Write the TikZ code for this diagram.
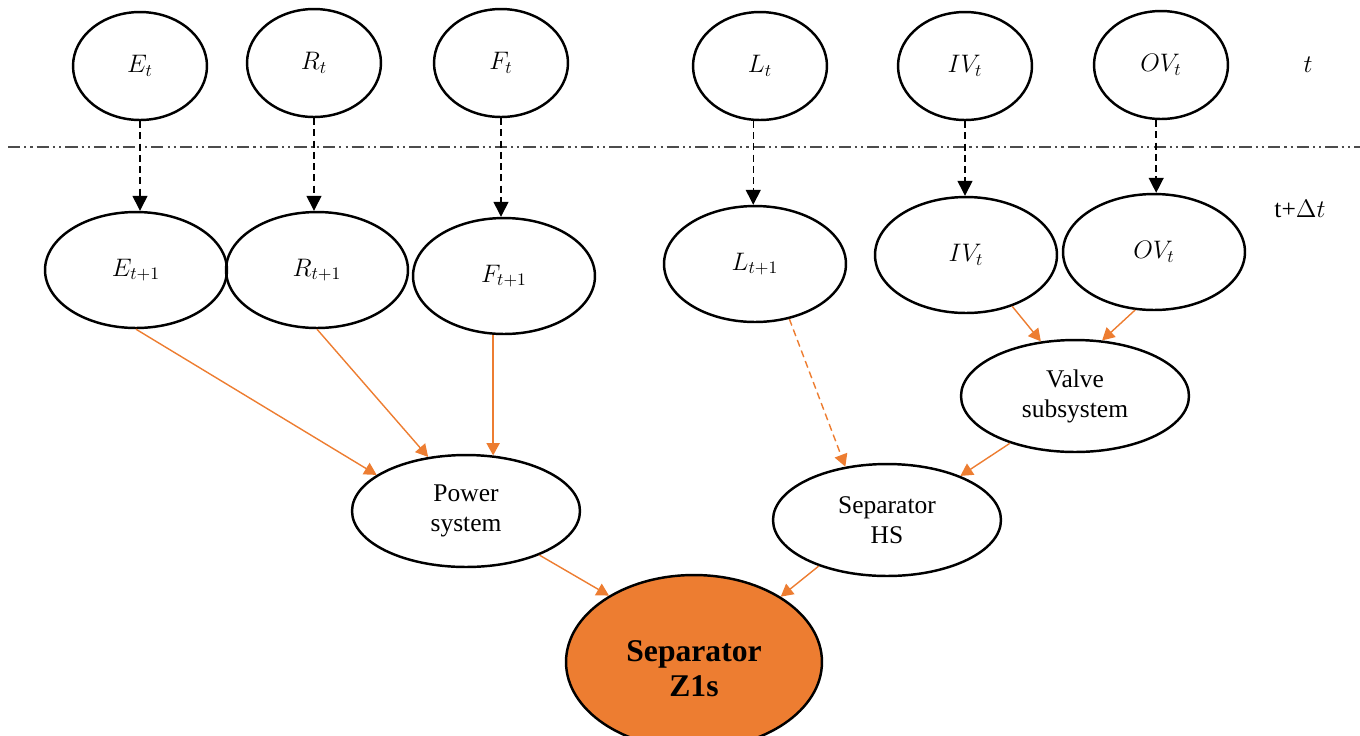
\documentclass[tikz,border=0pt]{standalone}
\usepackage{fontspec}
\setmainfont{Liberation Serif}
\usepackage{tikz}
\usetikzlibrary{shapes}
\usetikzlibrary{arrows.meta}
\definecolor{orangec}{HTML}{ED7D31}
\tikzstyle{etat}=[ellipse,draw,line width=1.4pt,inner sep=0pt,
        minimum width=2.68cm,minimum height=2.16cm,
        font=\fontsize{14.5}{17}\selectfont]
\tikzstyle{etatsuiv}=[etat,minimum width=3.64cm,minimum height=2.32cm]
\tikzstyle{soussys}=[ellipse,draw,line width=1.4pt,inner sep=0pt,
        minimum width=4.56cm,minimum height=2.24cm,align=center,
        font=\fontsize{14.5}{17}\selectfont]
\tikzstyle{cible}=[ellipse,draw,line width=1.4pt,inner sep=0pt,fill=orangec,
        minimum width=5.12cm,minimum height=3.48cm,
        font=\fontsize{18}{20}\selectfont\bfseries]
\tikzstyle{saut}=[-{Triangle[length=8.5pt,width=8.5pt]},line width=0.8pt,
        dash pattern=on 4pt off 2.4pt]
\tikzstyle{lien}=[-{Triangle[length=7pt,width=7.5pt]},color=orangec,line width=0.8pt]
\tikzstyle{lienpoint}=[lien,dash pattern=on 4pt off 2.4pt]

\begin{document}
\begin{tikzpicture}[x=0.02cm,y=-0.02cm]
\useasboundingbox (0,0) rectangle (1360,735);
%instant t
\node[etat] (et) at (140,66) {$E_t$};
\node[etat] (rt) at (314,63) {$R_t$};
\node[etat] (ft) at (501,63) {$F_t$};
\node[etat] (lt) at (760,66) {$L_t$};
\node[etat] (ivt) at (965,66) {$IV_t$};
\node[etat] (ovt) at (1161,65) {$OV_t$};
\node (tlab) at (1308,65) {\fontsize{15}{17}\selectfont$t$};
\draw[line width=1.1pt,color=black!70,
      dash pattern=on 7pt off 2.3pt on 1.2pt off 2.3pt on 1.2pt off 2.3pt]
      (8,147) -- (1360,147);
%instant t+dt
\node[etatsuiv] (et1) at (136,270) {$E_{t+1}$};
\node[etatsuiv] (rt1) at (317,270) {$R_{t+1}$};
\node[etatsuiv] (ft1) at (504,276) {$F_{t+1}$};
\node[etatsuiv] (lt1) at (755,264) {$L_{t+1}$};
\node[etatsuiv] (ivt1) at (966,255) {$IV_t$};
\node[etatsuiv] (ovt1) at (1154,252) {$OV_t$};
\node (tdt) at (1300,209) {\fontsize{14.5}{17}\selectfont t+$\Delta t$};
%sous-systemes
\node[soussys] (valve) at (1075,396) {Valve\\subsystem};
\node[soussys] (power) at (466,511) {Power\\system};
\node[soussys] (hs) at (887,520) {Separator\\HS};
\node[cible] (z1s) at (694,662)
     {\raisebox{-10pt}[0pt][0pt]{\begin{tabular}{@{}c@{}}Separator\\Z1s\end{tabular}}};
%Placementdesfleches
\draw[saut] (et.south) -- (et.south |- et1.north);
\draw[saut] (rt.south) -- (rt.south |- rt1.north);
\draw[saut] (ft.south) -- (ft.south |- ft1.north);
\draw[saut] (lt.-97) -- (lt.-97 |- lt1.north);
\draw[saut] (ivt.south) -- (ivt.south |- ivt1.north);
\draw[saut] (ovt.-95) -- (ovt.-95 |- ovt1.north);

\draw[lien] (et1.south) -- (power.158);
\draw[lien] (rt1.south) -- (power.125);
\draw[lien] (power.64 |- ft1.south) -- (power.64);
\draw[lienpoint] (lt1.-58) -- (hs.128);
\draw[lien] (ivt1.-48) -- (valve.122);
\draw[lien] (ovt1.-108) -- (valve.64);
\draw[lien] (valve.-144) -- (hs.31);

\draw[lien] (power.-31) -- (z1s.142);
\draw[lien] (hs.-146) -- (z1s.37);
\end{tikzpicture}
\end{document}
